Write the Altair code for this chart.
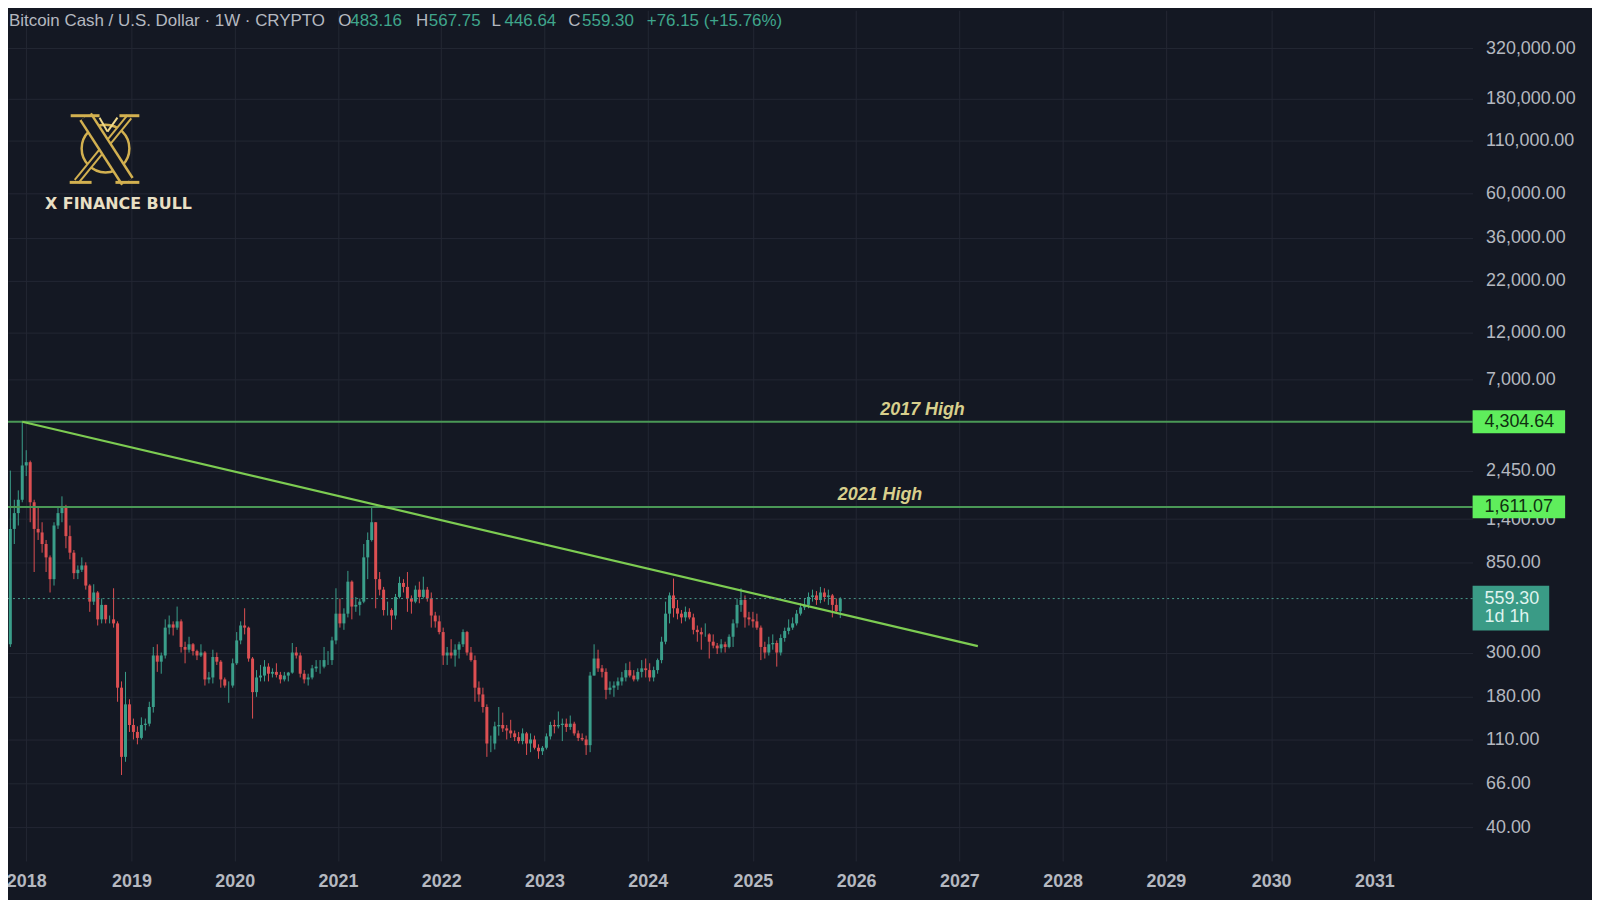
import altair as alt
import pandas as pd

# ---------------- data ----------------
first_open = 330.0
highs = [2450, 1750, 1950, 4304.64, 3100, 2750, 1750, 1600, 1350, 1100,
         920, 1350, 1600, 1820, 1650, 1300, 980, 820, 900, 850,
         660, 660, 610, 560, 520, 460, 630, 430, 215, 240,
         175, 140, 128, 142, 140, 170, 320, 330, 300, 440,
         460, 430, 510, 440, 340, 360, 335, 310, 330, 305,
         240, 310, 300, 275, 225, 215, 280, 380, 430, 500,
         405, 285, 245, 260, 275, 265, 250, 265, 240, 240,
         240, 335, 320, 300, 245, 235, 260, 275, 275, 320,
         305, 360, 630, 560, 500, 770, 690, 570, 560, 1050,
         1200, 1611.07, 1350, 760, 640, 540, 500, 590, 720, 700,
         760, 580, 650, 680, 720, 640, 600, 480, 460, 400,
         320, 350, 330, 340, 392, 385, 320, 290, 215, 200,
         165, 115, 135, 160, 150, 130, 138, 122, 120, 125,
         120, 118, 115, 104, 102, 118, 135, 138, 152, 140,
         140, 145, 135, 122, 118, 115, 240, 330, 310, 260,
         250, 215, 215, 225, 240, 265, 270, 245, 250, 275,
         280, 265, 255, 280, 360, 540, 600, 705, 550, 490,
         510, 500, 470, 410, 400, 420, 375, 370, 335, 350,
         340, 370, 440, 560, 630, 580, 480, 480, 470, 410,
         340, 360, 370, 345, 370, 400, 440, 450, 490, 530,
         560, 600, 620, 610, 640, 630, 620, 590, 560, 567.75]
lows = [320, 1050, 1300, 1700, 2300, 1350, 760, 1100, 950, 760,
        600, 650, 1250, 1350, 1000, 880, 700, 700, 760, 620,
        480, 520, 410, 420, 420, 420, 400, 170, 73, 85,
        120, 110, 104, 110, 122, 128, 150, 240, 235, 280,
        370, 365, 390, 300, 265, 300, 290, 275, 285, 205,
        210, 210, 260, 200, 200, 168, 200, 260, 330, 370,
        270, 140, 180, 215, 215, 215, 225, 225, 210, 215,
        215, 235, 280, 225, 210, 205, 220, 240, 235, 250,
        260, 260, 330, 400, 390, 450, 440, 480, 460, 530,
        700, 1080, 500, 580, 460, 460, 390, 440, 560, 600,
        480, 470, 530, 530, 560, 540, 400, 400, 370, 260,
        260, 280, 255, 280, 320, 290, 270, 170, 170, 150,
        90, 95, 98, 115, 120, 110, 112, 108, 105, 104,
        92, 95, 98, 88, 92, 98, 110, 118, 125, 108,
        120, 123, 115, 108, 108, 92, 95, 230, 240, 225,
        175, 185, 180, 195, 205, 215, 225, 215, 215, 225,
        225, 215, 215, 235, 265, 330, 420, 450, 440, 420,
        430, 440, 370, 340, 310, 360, 280, 315, 295, 300,
        300, 315, 320, 400, 480, 400, 410, 400, 390, 275,
        280, 290, 310, 255, 290, 340, 370, 390, 410, 460,
        490, 500, 540, 520, 530, 540, 520, 450, 470, 446.64]
closes = [1250, 1500, 1750, 2600, 2700, 1700, 1250, 1200, 1050, 900,
          700, 1300, 1500, 1600, 1150, 950, 750, 780, 820, 650,
          540, 600, 440, 520, 440, 440, 420, 200, 90, 165,
          130, 120, 112, 130, 132, 160, 290, 270, 290, 400,
          415, 400, 430, 320, 310, 330, 305, 290, 300, 220,
          225, 285, 270, 220, 205, 205, 265, 345, 410, 400,
          280, 190, 225, 230, 255, 235, 240, 232, 220, 230,
          238, 300, 290, 235, 220, 225, 250, 255, 255, 275,
          275, 345, 470, 420, 470, 680, 510, 520, 540, 900,
          1100, 1350, 700, 620, 490, 490, 460, 570, 670, 640,
          560, 540, 620, 570, 620, 560, 460, 430, 380, 290,
          300, 290, 310, 330, 380, 300, 275, 200, 185, 160,
          105, 105, 128, 130, 125, 122, 118, 113, 108, 118,
          105, 110, 100, 96, 100, 114, 130, 128, 130, 132,
          127, 132, 118, 112, 110, 103, 230, 280, 250, 240,
          195, 200, 205, 215, 225, 245, 230, 220, 240, 250,
          245, 225, 245, 275, 340, 470, 580, 500, 470, 450,
          480, 450, 390, 380, 370, 370, 340, 325, 315, 330,
          320, 360, 420, 520, 550, 450, 440, 430, 400, 320,
          300, 330, 335, 300, 355, 385, 400, 420, 470, 505,
          520, 570, 580, 550, 600, 570, 580, 520, 483.16, 559.30]

trend_dates = ["2017-12-18", "2027-03-10"]
trend_values = [4304.64, 323.0]

level_values = [4304.64, 1611.07]
level_names = ["2017 High", "2021 High"]
level_label_dates = ["2026-08-27", "2026-03-30"]
level_box_text = ["4,304.64", "1,611.07"]

last_price = 559.30
last_price_text = "559.30"
countdown_text = "1d 1h"

# first weekly bar of each year (where the time axis puts the year label)
year_tick_dates = ["2018-01-01", "2019-01-07", "2020-01-06", "2021-01-04",
                   "2022-01-03", "2023-01-02", "2024-01-01", "2025-01-06",
                   "2026-01-05", "2027-01-04", "2028-01-03", "2029-01-01",
                   "2030-01-07", "2031-01-06"]
price_ticks = [40, 66, 110, 180, 300, 850, 1400, 2450, 7000,
               12000, 22000, 36000, 60000, 110000, 180000, 320000]

header_main = "Bitcoin Cash / U.S. Dollar \u00b7 1W \u00b7 CRYPTO"
ohlc_letters = ["O", "H", "L", "C"]
ohlc_values = ["483.16", "567.75", "446.64", "559.30"]
change_text = "+76.15 (+15.76%)"
logo_text = "X FINANCE BULL"

# ---------------- tables ----------------
dates = pd.date_range("2017-11-06", periods=len(closes), freq="14D")
opens = [first_open] + closes[:-1]
candles = pd.DataFrame({"date": dates, "open": opens, "high": highs,
                        "low": lows, "close": closes})
candles["dir"] = ["up" if c >= o else "down" for o, c in zip(opens, closes)]

trend = pd.DataFrame({"date": pd.to_datetime(trend_dates), "value": trend_values})
levels = pd.DataFrame({"value": level_values, "name": level_names,
                       "date": pd.to_datetime(level_label_dates),
                       "box": level_box_text})
one = pd.DataFrame({"k": [0]})

# ---------------- styling ----------------
BG = "#141823"
GRID = "#232733"
LABEL = "#b5b8c0"
UP = "#3a9e8a"
DOWN = "#dc4f52"
VALUE_GREEN = "#3fa68c"
GOLD = "#d2b050"


def dt(s):
    t = pd.Timestamp(s)
    return alt.DateTime(year=t.year, month=t.month, date=t.day)


xscale = alt.Scale(domain=[alt.DateTime(year=2017, month=11, date=15, hours=7),
                           alt.DateTime(year=2031, month=11, date=30, hours=17)],
                   nice=False)
yscale = alt.Scale(type="log", domain=[27.07, 497560], nice=False)

xaxis = alt.Axis(values=[dt(s) for s in year_tick_dates],
                 format="%Y", labelAlign="center", labelBaseline="top",
                 labelPadding=12, ticks=False, domain=False, grid=True,
                 gridColor=GRID, labelColor=LABEL, labelFontSize=18,
                 labelFont="Liberation Sans", labelFontWeight="bold",
                 labelFlush=False, labelOverlap=False, title=None)
yaxis = alt.Axis(orient="right", values=price_ticks, format=",.2f",
                 labelAlign="left", labelBaseline="middle", labelPadding=13,
                 ticks=False, domain=False, grid=True, gridColor=GRID,
                 labelColor=LABEL, labelFontSize=18, labelFont="Liberation Sans",
                 labelOverlap=False, title=None)


def X(field):
    return alt.X(field, scale=xscale, axis=xaxis, title=None)


def Y(field):
    return alt.Y(field, scale=yscale, axis=yaxis, title=None)


def YD(value):
    return alt.YDatum(value, scale=yscale, axis=yaxis, title=None)


color = alt.Color("dir:N", scale=alt.Scale(domain=["up", "down"], range=[UP, DOWN]),
                  legend=None)

wicks = alt.Chart(candles).mark_rule(clip=True, strokeWidth=1).encode(
    x=X("date:T"), y=Y("low:Q"), y2="high:Q", color=color,
)
bodies = alt.Chart(candles).mark_bar(clip=True, size=3).encode(
    x=X("date:T"), y=Y("open:Q"), y2="close:Q", color=color,
)

level_lines = alt.Chart(levels).mark_rule(color="#4a9856", strokeWidth=2).encode(
    y=Y("value:Q")
)
level_text = alt.Chart(levels).mark_text(
    font="Liberation Sans", fontSize=18, fontStyle="italic", fontWeight="bold",
    color="#d8cf8c", dy=-12, align="center", baseline="middle"
).encode(x=X("date:T"), y=Y("value:Q"), text="name:N")

trend_line = alt.Chart(trend).mark_line(color="#7dcc52", strokeWidth=2.2).encode(
    x=X("date:T"), y=Y("value:Q"),
)

last_line = alt.Chart(one).mark_rule(color="#4a9a8a", strokeWidth=1,
                                      strokeDash=[2, 3]).encode(y=YD(last_price))

# price boxes on the axis
level_boxes = alt.Chart(levels).mark_rule(color="#5fee5c", strokeWidth=23).encode(
    x=alt.value(1472), x2=alt.value(1565), y=Y("value:Q"),
)
level_box_labels = alt.Chart(levels).mark_text(
    font="Liberation Sans", fontSize=18, color="#0f3010", align="left",
    baseline="middle"
).encode(x=alt.value(1484), y=Y("value:Q"), text="box:N")
last_box = alt.Chart(one).mark_rule(color="#3a9b86", strokeWidth=45,
                                     yOffset=9.5).encode(
    x=alt.value(1472), x2=alt.value(1549), y=YD(last_price),
)
last_box_text = alt.Chart(one).mark_text(
    font="Liberation Sans", fontSize=18, color="#dff3ee", align="left",
    baseline="middle", text=last_price_text
).encode(x=alt.value(1484), y=YD(last_price))
last_box_text2 = alt.Chart(one).mark_text(
    font="Liberation Sans", fontSize=18, color="#dff3ee", align="left",
    baseline="middle", dy=19, text=countdown_text
).encode(x=alt.value(1484), y=YD(last_price))

# header line
header_layers = []
header_specs = [(header_main, LABEL, 1)]
letter_x = [332, 410, 486, 563]
value_x = [344, 423, 499, 577]
for lt, lx, vt, vx in zip(ohlc_letters, letter_x, ohlc_values, value_x):
    header_specs.append((lt, LABEL, lx))
    header_specs.append((vt, VALUE_GREEN, vx))
header_specs.append((change_text, VALUE_GREEN, 642))
for txt, col, px in header_specs:
    header_layers.append(
        alt.Chart(one).mark_text(text=txt, font="Liberation Sans", fontSize=17,
                                 color=col, align="left", baseline="middle")
        .encode(x=alt.value(px), y=alt.value(11))
    )


# logo emblem (decoration drawn from strokes)
def seg(x1, y1, x2, y2, width, col):
    return alt.Chart(one).mark_rule(strokeWidth=width, color=col,
                                    strokeCap="butt").encode(
        x=alt.value(x1), y=alt.value(y1), x2=alt.value(x2), y2=alt.value(y2))


logo_ring = alt.Chart(one).mark_point(
    shape="circle", size=2300, filled=False, stroke=GOLD, strokeWidth=2.5,
    opacity=1
).encode(x=alt.value(98), y=alt.value(139))
logo_parts = [
    logo_ring,
    seg(122, 107, 69, 172, 7, GOLD), seg(122, 107, 69, 172, 3, BG),
    seg(78, 107, 120, 172, 15, GOLD), seg(78, 107, 120, 172, 10, BG),
    seg(63, 106, 92, 106, 3, GOLD), seg(112, 106, 132, 106, 3, GOLD),
    seg(108, 173, 132, 173, 3, GOLD), seg(62, 173, 84, 173, 3, GOLD),
    seg(92, 108, 100, 122, 2, "#f0d98a"), seg(100, 122, 110, 108, 2, "#f0d98a"),
]
logo_word = alt.Chart(one).mark_text(
    text=logo_text, font="DejaVu Sans", fontWeight="bold", fontSize=16,
    color="#e8dfc4", align="center", baseline="middle"
).encode(x=alt.value(111), y=alt.value(195))

chart = alt.layer(
    wicks, bodies, level_lines, trend_line, last_line, level_text,
    level_boxes, level_box_labels, last_box, last_box_text, last_box_text2,
    *header_layers, *logo_parts, logo_word
).properties(
    width=1472,
    height=855,
    background=BG,
    padding={"left": 0, "top": 0, "right": 120, "bottom": 37},
    autosize=alt.AutoSizeParams(type="none"),
).configure_view(
    strokeWidth=0
).configure_axis(
    titleColor="transparent"
)

chart.save("out.html", embed_options={"renderer": "svg", "actions": False})
